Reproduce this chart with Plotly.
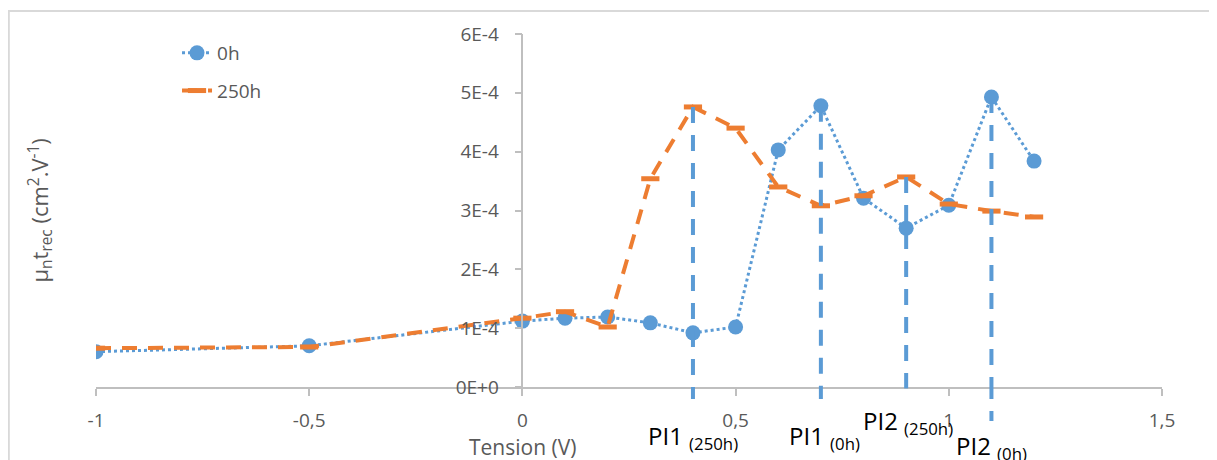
import plotly.graph_objects as go

# ---- data ----
tension = [-1, -0.5, 0, 0.1, 0.2, 0.3, 0.4, 0.5, 0.6, 0.7, 0.8, 0.9, 1.0, 1.1, 1.2]
mu_0h = [0.60e-4, 0.70e-4, 1.12e-4, 1.17e-4, 1.19e-4, 1.09e-4, 0.92e-4, 1.02e-4,
         4.03e-4, 4.78e-4, 3.21e-4, 2.70e-4, 3.09e-4, 4.93e-4, 3.84e-4]
mu_250h = [0.66e-4, 0.68e-4, 1.17e-4, 1.28e-4, 1.02e-4, 3.54e-4, 4.76e-4, 4.40e-4,
           3.40e-4, 3.08e-4, 3.25e-4, 3.57e-4, 3.11e-4, 2.99e-4, 2.89e-4]

x_tickvals = [-1, -0.5, 0, 0.5, 1, 1.5]
x_ticktext = ["-1", "-0,5", "0", "0,5", "1", "1,5"]
y_tickvals = [0, 1e-4, 2e-4, 3e-4, 4e-4, 5e-4, 6e-4]
y_ticktext = ["0E+0", "1E-4", "2E-4", "3E-4", "4E-4", "5E-4", "6E-4"]

pi_x = [0.4, 0.7, 0.9, 1.1]
pi_series = ["250h", "0h", "250h", "0h"]
pi_name = ["PI1", "PI1", "PI2", "PI2"]
pi_sub = ["(250h)", "(0h)", "(250h)", "(0h)"]

x_title = "Tension (V)"
y_title = "μ<sub>n</sub>t<sub>rec</sub> (cm<sup>2</sup>.V<sup>-1</sup>)"

# ---- style ----
BLUE = "#5b9bd5"
ORANGE = "#ed7d31"
GRAY_TXT = "#595959"
AXIS = "#bfbfbf"
FONT = "Open Sans"
X_RANGE = [-1, 1.5]
Y_RANGE = [0, 6e-4]

fig = go.Figure()
fig.add_trace(go.Scatter(
    x=tension, y=mu_0h, name="0h", mode="lines+markers",
    line=dict(color=BLUE, width=3, dash="dot"),
    marker=dict(color=BLUE, size=15, symbol="circle"),
    legendgroup="a",
))
fig.add_trace(go.Scatter(
    x=tension, y=mu_250h, name="250h", mode="lines+markers",
    line=dict(color=ORANGE, width=4, dash="15px,11px"),
    marker=dict(symbol="line-ew", size=13, line=dict(color=ORANGE, width=5)),
    legendgroup="b",
))

series = {"0h": mu_0h, "250h": mu_250h}
below_len = [0.054, 0.048, 0.004, 0.096]   # extension below axis (domain fraction)
label_y = [-0.142, -0.142, -0.099, -0.170]
label_dx = [0, 4, 2, 0]
for i, xv in enumerate(pi_x):
    peak = series[pi_series[i]][tension.index(xv)]
    fig.add_shape(type="line", xref="x", yref="y", x0=xv, x1=xv, y0=peak, y1=0,
                  line=dict(color=BLUE, width=4, dash="16px,12px"))
    fig.add_shape(type="line", xref="x", yref="y domain", x0=xv, x1=xv, y0=0, y1=-below_len[i],
                  line=dict(color=BLUE, width=4, dash="12px,12px"))
    fig.add_annotation(x=xv, y=label_y[i], xref="x", yref="paper", xshift=label_dx[i],
                       text=f"{pi_name[i]} <sub>{pi_sub[i]}</sub>", showarrow=False,
                       font=dict(family=FONT, size=24, color="#000000"),
                       xanchor="center", yanchor="middle")

# x-axis title centred under x = 0 (where the value axis crosses)
fig.add_annotation(x=0, y=-0.170, xref="x", yref="paper", text=x_title, showarrow=False,
                   font=dict(family=FONT, size=21, color=GRAY_TXT),
                   xanchor="center", yanchor="middle")
# y-axis title at the left of the chart
fig.add_annotation(x=0, y=0.5, xref="paper", yref="paper", xshift=-56, text=y_title,
                   showarrow=False, textangle=-90,
                   font=dict(family=FONT, size=22, color=GRAY_TXT),
                   xanchor="center", yanchor="middle")

# outer chart border
fig.add_shape(type="rect", xref="paper", yref="paper", x0=-0.0818, x1=1.2, y0=-0.5, y1=1.065,
              line=dict(color="#d9d9d9", width=2), fillcolor="rgba(0,0,0,0)", layer="below")

fig.update_layout(
    width=1209, height=452,
    margin=dict(l=88, r=55, t=26, b=73),
    paper_bgcolor="white", plot_bgcolor="white",
    font=dict(family=FONT, color=GRAY_TXT),
    showlegend=True,
    legend=dict(x=0.076, y=1.0, xanchor="left", yanchor="top",
                font=dict(size=19, color=GRAY_TXT), traceorder="grouped",
                tracegroupgap=10, bgcolor="rgba(0,0,0,0)"),
    xaxis=dict(range=X_RANGE, showgrid=False, zeroline=False, showline=True,
               linecolor=AXIS, linewidth=1.5, ticks="outside", ticklen=7, tickcolor=AXIS,
               tickwidth=1.5, tickvals=x_tickvals, ticktext=x_ticktext,
               tickfont=dict(size=19, color=GRAY_TXT), ticklabelstandoff=8),
    yaxis=dict(range=Y_RANGE, anchor="free",
               position=(0 - X_RANGE[0]) / (X_RANGE[1] - X_RANGE[0]),
               side="left", showgrid=False, zeroline=False, showline=True,
               linecolor=AXIS, linewidth=1.5, ticks="outside", ticklen=7, tickcolor=AXIS,
               tickwidth=1.5, tickvals=y_tickvals, ticktext=y_ticktext,
               tickfont=dict(size=19, color=GRAY_TXT), ticklabelstandoff=12),
)

fig.write_html("out.html")
